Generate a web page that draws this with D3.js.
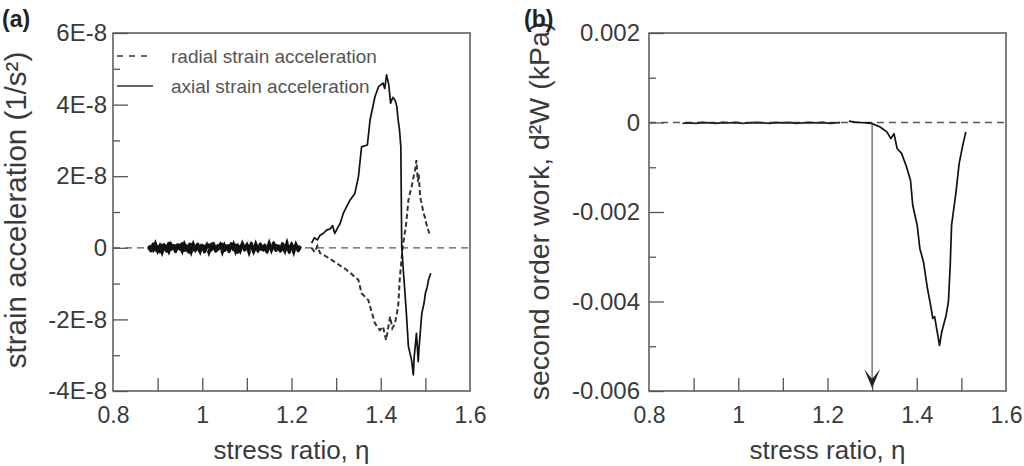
<!DOCTYPE html>
<html>
<head>
<meta charset="utf-8">
<script src="https://cdnjs.cloudflare.com/ajax/libs/d3/7.8.5/d3.min.js"></script>
<style>
  body { margin: 0; background: #fff; }
  svg { font-family: "Liberation Sans", Arial, sans-serif; }
</style>
</head>
<body>
<div id="chart-area"></div>
<script>
// ---- data ----
// panel (a): strain acceleration, values in units of 1E-8 (1/s^2)
var xTicks = [0.8, 1, 1.2, 1.4, 1.6];
var xMinorTicks = [0.9, 1.0, 1.1, 1.2, 1.3, 1.4, 1.5];
var aMajorTicks = [-4, -2, 0, 2, 4, 6];
var aMinorTicks = [-3, -1, 1, 3, 5];
var bMajorTicks = [-0.006, -0.004, -0.002, 0, 0.002];
var bMinorTicks = [-0.005, -0.003, -0.001, 0.001];

var noiseEta = [0.880,0.885,0.890,0.895,0.900,0.905,0.910,0.915,0.920,0.925,
  0.930,0.935,0.940,0.945,0.950,0.955,0.960,0.965,0.970,0.975,
  0.980,0.985,0.990,0.995,1.000,1.005,1.010,1.015,1.020,1.025,
  1.030,1.035,1.040,1.045,1.050,1.055,1.060,1.065,1.070,1.075,
  1.080,1.085,1.090,1.095,1.100,1.105,1.110,1.115,1.120,1.125,
  1.130,1.135,1.140,1.145,1.150,1.155,1.160,1.165,1.170,1.175,
  1.180,1.185,1.190,1.195,1.200,1.205,1.210,1.215,1.220];
var noiseAxial = [0.05,-0.08,0.10,-0.06,0.03,-0.11,0.07,0.02,-0.09,0.12,
  -0.04,0.06,-0.10,0.08,-0.03,0.11,-0.07,0.04,-0.12,0.09,
  -0.05,0.02,0.10,-0.08,0.06,-0.11,0.03,0.08,-0.06,0.12,
  -0.09,0.05,-0.02,0.10,-0.07,0.04,-0.10,0.11,-0.05,0.07,
  -0.12,0.03,0.09,-0.06,0.08,-0.04,0.12,-0.10,0.05,-0.08,
  0.10,-0.03,0.07,-0.11,0.09,-0.05,0.13,-0.07,0.04,-0.09,
  0.11,-0.06,0.08,-0.12,0.10,-0.04,0.06,-0.08,0.03];
var noiseRadial = [-0.06,0.09,-0.04,0.11,-0.08,0.05,-0.12,0.07,0.03,-0.10,
  0.08,-0.05,0.12,-0.07,0.04,-0.09,0.10,-0.03,0.06,-0.11,
  0.09,-0.06,0.02,-0.10,0.11,-0.04,0.07,-0.12,0.05,-0.08,
  0.10,-0.02,0.08,-0.11,0.06,-0.07,0.12,-0.05,0.09,-0.10,
  0.04,-0.08,0.11,-0.03,0.07,-0.12,0.06,-0.09,0.10,-0.05,
  0.08,-0.11,0.04,-0.07,0.12,-0.06,0.09,-0.04,0.11,-0.10,
  0.05,-0.08,0.13,-0.06,0.07,-0.11,0.09,-0.03,0.05];

var axialEta = [1.245,1.251,1.258,1.264,1.271,1.279,1.286,1.292,1.297,1.303,1.309,1.316,1.331,1.342,1.350,
  1.357,1.370,1.376,1.387,1.395,1.405,1.409,1.413,1.418,1.422,1.427,1.432,1.436,1.439,
  1.442,1.445,1.447,1.450,1.457,1.462,1.469,1.473,1.475,1.480,1.484,
  1.486,1.489,1.492,1.497,1.500,1.504,1.507,1.512];
var axialAcc = [0.13,0.28,0.22,0.35,0.40,0.50,0.52,0.62,0.40,0.55,0.68,0.96,1.33,1.52,1.99,
  2.82,2.87,3.57,4.22,4.50,4.60,4.45,4.83,4.55,4.04,4.20,4.13,3.95,3.57,
  3.30,2.82,0.03,-0.53,-1.74,-2.76,-3.13,-3.55,-3.04,-2.39,-3.18,
  -2.76,-2.30,-1.83,-1.55,-1.27,-1.10,-0.90,-0.71];

var radialEta = [1.245,1.252,1.258,1.264,1.279,1.301,1.324,1.350,1.357,1.372,1.387,1.398,
  1.405,1.412,1.421,1.426,1.432,1.439,1.443,1.449,1.457,1.462,1.466,1.469,1.473,1.477,
  1.480,1.483,1.485,1.488,1.490,1.493,1.496,1.499,1.502,1.505,1.509];
var radialAcc = [0.00,-0.12,0.05,-0.15,-0.25,-0.43,-0.62,-0.90,-1.27,-1.46,-2.11,-2.30,
  -2.20,-2.58,-1.92,-2.25,-2.11,-1.64,-0.81,0.00,0.68,1.33,1.55,1.70,1.95,2.17,
  2.45,1.85,2.05,1.50,1.33,1.15,0.96,0.85,0.68,0.55,0.40];

// panel (b): second order work d2W (kPa)
var flatEta = [0.875,0.890,0.905,0.920,0.935,0.950,0.965,0.980,0.995,1.010,
  1.025,1.040,1.055,1.070,1.085,1.100,1.115,1.130,1.145,1.160,
  1.175,1.190,1.205,1.220,1.228];
var flatWork = [-0.00002,-0.00001,-0.00002,0.00000,-0.00001,-0.00002,0.00000,-0.00001,0.00000,-0.00002,
  -0.00001,0.00000,-0.00001,-0.00002,0.00000,-0.00001,0.00000,-0.00002,-0.00001,0.00000,
  -0.00001,0.00000,-0.00002,-0.00001,0.00000];
var workEta = [1.248,1.260,1.273,1.287,1.299,1.318,1.333,1.342,1.349,1.356,
  1.366,1.377,1.386,1.391,1.401,1.407,1.415,1.424,1.431,1.436,
  1.440,1.451,1.456,1.466,1.471,1.475,1.478,1.488,1.495,1.503,1.510];
var work = [0.00003,0.00001,0.00000,-0.00001,-0.00002,-0.00010,-0.00021,-0.00036,-0.00025,-0.00058,
  -0.00069,-0.00099,-0.00129,-0.00185,-0.00230,-0.00282,-0.00311,-0.00371,-0.00408,-0.00438,
  -0.00434,-0.00498,-0.00468,-0.00430,-0.00400,-0.00319,-0.00230,-0.00155,-0.00092,-0.00051,-0.00021];
var onsetEta = 1.3;

function zip(xs, ys) {
  return xs.map(function (x, i) { return [x, ys[i]]; });
}

var svg = d3.select("#chart-area").append("svg")
  .attr("width", 1024).attr("height", 466);

var textColor = "#3a3a3a", frameColor = "#555";

function panel(opts) {
  var x = d3.scaleLinear().domain([0.8, 1.6]).range([opts.left, opts.right]);
  var y = d3.scaleLinear().domain(opts.yDomain).range([391, 33]);
  var g = svg.append("g");

  // x axis, inward ticks
  var xa = g.append("g").attr("transform", "translate(0,391)")
    .call(d3.axisBottom(x).tickValues(xMinorTicks).tickSizeInner(-13).tickSizeOuter(0).tickFormat(""));
  xa.select(".domain").remove();
  xa.selectAll("line").attr("stroke", frameColor).attr("stroke-width", 1.3);
  var xl = g.append("g").attr("transform", "translate(0,391)")
    .call(d3.axisBottom(x).tickValues(xTicks).tickSize(0).tickPadding(16).tickFormat(function (d) { return d; }));
  xl.select(".domain").remove();
  xl.selectAll("text").attr("fill", textColor).attr("font-size", "23px").attr("font-family", null);

  // y axis
  var ym = g.append("g").attr("transform", "translate(" + opts.left + ",0)")
    .call(d3.axisLeft(y).tickValues(opts.minor).tickSizeInner(-7).tickSizeOuter(0).tickFormat(""));
  ym.select(".domain").remove();
  ym.selectAll("line").attr("stroke", frameColor).attr("stroke-width", 1.3);
  var yM = g.append("g").attr("transform", "translate(" + opts.left + ",0)")
    .call(d3.axisLeft(y).tickValues(opts.major).tickSizeInner(-15).tickSizeOuter(0).tickPadding(opts.pad).tickFormat(opts.fmt));
  yM.select(".domain").remove();
  yM.selectAll("line").attr("stroke", frameColor).attr("stroke-width", 1.3);
  yM.selectAll("text").attr("fill", textColor).attr("font-size", "24px").attr("font-family", null);

  g.append("rect").attr("x", opts.left).attr("y", 33)
    .attr("width", opts.right - opts.left).attr("height", 358)
    .attr("fill", "none").attr("stroke", frameColor).attr("stroke-width", 1.5);

  // zero reference line
  g.append("line").attr("x1", x(0.8)).attr("x2", x(1.6)).attr("y1", y(0)).attr("y2", y(0))
    .attr("stroke", "#555").attr("stroke-width", 1.3).attr("stroke-dasharray", "7,5");

  g.append("text").attr("x", (opts.left + opts.right) / 2).attr("y", 459)
    .attr("text-anchor", "middle").attr("font-size", "26px").attr("fill", textColor)
    .text("stress ratio, \u03b7");
  g.append("text").attr("transform", "translate(" + opts.yLabelX + "," + opts.yLabelY + ") rotate(-90)")
    .attr("text-anchor", "middle").attr("font-size", opts.yLabelSize).attr("fill", textColor)
    .text(opts.yLabel);
  g.append("text").attr("x", opts.tagX).attr("y", 27).attr("font-size", "23px")
    .attr("font-weight", "bold").attr("fill", "#222").text(opts.tag);

  return { g: g, x: x, y: y };
}

var a = panel({
  left: 113, right: 470, yDomain: [-4, 6], major: aMajorTicks, minor: aMinorTicks, pad: 6,
  fmt: function (d) { return d === 0 ? "0" : d + "E-8"; },
  yLabel: "strain acceleration (1/s\u00b2)", yLabelX: 26, yLabelY: 210, yLabelSize: "29.5px", tag: "(a)", tagX: 2
});
var b = panel({
  left: 649, right: 1006, yDomain: [-0.006, 0.002], major: bMajorTicks, minor: bMinorTicks, pad: 9,
  fmt: function (d) { return d === 0 ? "0" : d3.format(".3f")(d).replace("\u2212", "-"); },
  yLabel: "second order work, d\u00b2W (kPa)", yLabelX: 549, yLabelY: 211, yLabelSize: "28.5px", tag: "(b)", tagX: 524
});

var lineA = d3.line().x(function (d) { return a.x(d[0]); }).y(function (d) { return a.y(d[1]); });
var lineB = d3.line().x(function (d) { return b.x(d[0]); }).y(function (d) { return b.y(d[1]); });

// panel (a) curves
a.g.append("path").attr("d", lineA(zip(noiseEta, noiseRadial)))
  .attr("fill", "none").attr("stroke", "#111").attr("stroke-width", 3.4).attr("stroke-dasharray", "5,2");
a.g.append("path").attr("d", lineA(zip(noiseEta, noiseAxial)))
  .attr("fill", "none").attr("stroke", "#111").attr("stroke-width", 3.4).attr("stroke-linejoin", "round");
a.g.append("path").attr("d", lineA(zip(radialEta, radialAcc)))
  .attr("fill", "none").attr("stroke", "#333").attr("stroke-width", 2).attr("stroke-dasharray", "5,3");
a.g.append("path").attr("d", lineA(zip(axialEta, axialAcc)))
  .attr("fill", "none").attr("stroke", "#111").attr("stroke-width", 1.7).attr("stroke-linejoin", "round");

// legend
var legend = a.g.append("g");
legend.append("line").attr("x1", 117).attr("x2", 152).attr("y1", 56).attr("y2", 56)
  .attr("stroke", "#333").attr("stroke-width", 1.5).attr("stroke-dasharray", "6,6");
legend.append("text").attr("x", 171).attr("y", 63).attr("font-size", "19px").attr("fill", "#555")
  .text("radial strain acceleration");
legend.append("line").attr("x1", 117).attr("x2", 153).attr("y1", 86).attr("y2", 86)
  .attr("stroke", "#333").attr("stroke-width", 1.5);
legend.append("text").attr("x", 171).attr("y", 93).attr("font-size", "19px").attr("fill", "#555")
  .text("axial strain acceleration");

// panel (b) curve
b.g.append("path").attr("d", lineB(zip(flatEta, flatWork)))
  .attr("fill", "none").attr("stroke", "#222").attr("stroke-width", 1.8);
b.g.append("path").attr("d", lineB(zip(workEta, work)))
  .attr("fill", "none").attr("stroke", "#111").attr("stroke-width", 1.7).attr("stroke-linejoin", "round");

// onset arrow
var ax = b.x(onsetEta), ay0 = b.y(0), ay1 = b.y(-0.006);
b.g.append("line").attr("x1", ax).attr("x2", ax).attr("y1", ay0).attr("y2", ay1 - 4)
  .attr("stroke", "#555").attr("stroke-width", 1.2);
b.g.append("path")
  .attr("d", "M" + (ax - 8) + "," + (ay1 - 22) + "L" + ax + "," + (ay1 - 3) + "L" + (ax + 8) + "," + (ay1 - 22) + "L" + ax + "," + (ay1 - 12) + "Z")
  .attr("fill", "#222");
</script>
</body>
</html>
